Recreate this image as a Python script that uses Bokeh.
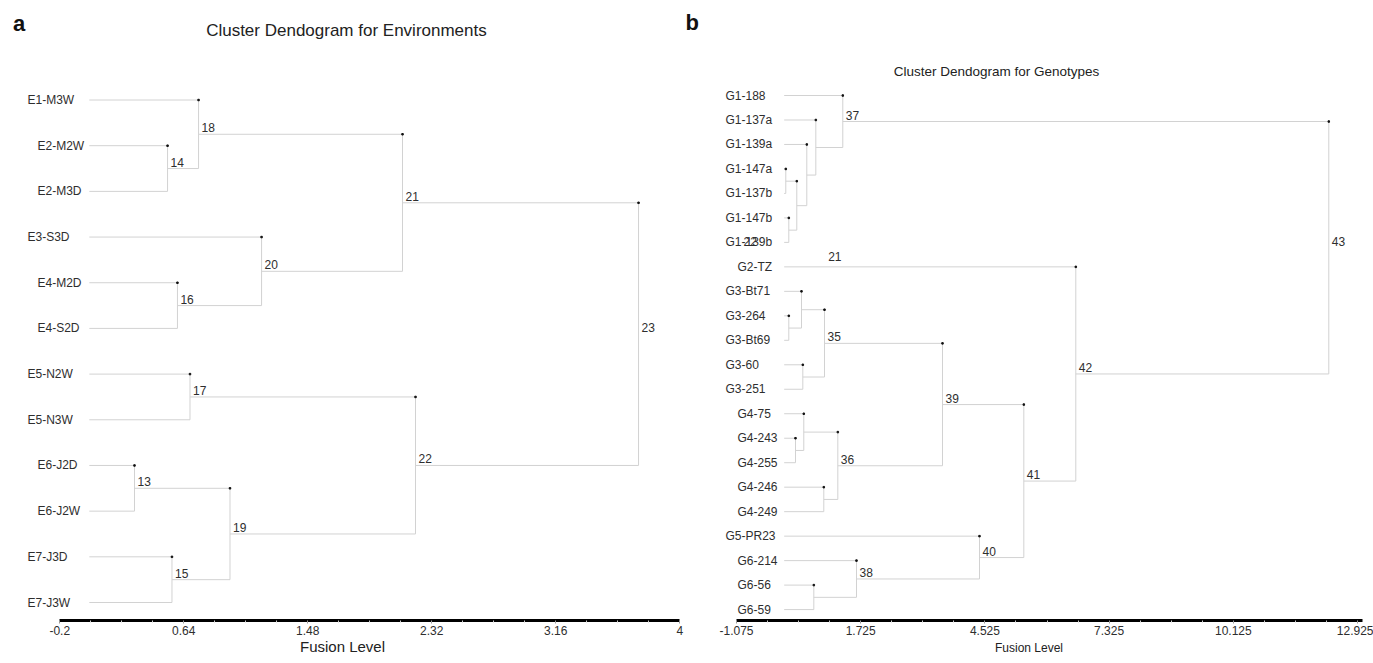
from bokeh.plotting import figure
from bokeh.layouts import row
from bokeh.models import Range1d, FixedTicker, Label, ColumnDataSource
from bokeh.embed import file_html
from bokeh.resources import INLINE
from bokeh.core.properties import value

# ---------------- data: environments ----------------
env_leaves = ["E1-M3W", "E2-M2W", "E2-M3D", "E3-S3D", "E4-M2D", "E4-S2D",
              "E5-N2W", "E5-N3W", "E6-J2D", "E6-J2W", "E7-J3D", "E7-J3W"]
env_merge_ids = [13, 14, 15, 16, 17, 18, 19, 20, 21, 22, 23]
env_merge_left = ["E6-J2D", "E2-M2W", "E7-J3D", "E4-M2D", "E5-N2W", "E1-M3W", 13, "E3-S3D", 18, 17, 21]
env_merge_right = ["E6-J2W", "E2-M3D", "E7-J3W", "E4-S2D", "E5-N3W", 14, 15, 16, 20, 19, 22]
env_merge_height = [0.306, 0.530, 0.560, 0.597, 0.682, 0.740, 0.953, 1.167, 2.122, 2.210, 3.721]
env_merge_label = ["13", "14", "15", "16", "17", "18", "19", "20", "21", "22", "23"]
env_ticks = [-0.2, 0.64, 1.48, 2.32, 3.16, 4.0]
env_tick_labels = ["-0.2", "0.64", "1.48", "2.32", "3.16", "4"]

# ---------------- data: genotypes ----------------
gen_leaves = ["G1-188", "G1-137a", "G1-139a", "G1-147a", "G1-137b", "G1-147b", "G1-139b",
              "G2-TZ", "G3-Bt71", "G3-264", "G3-Bt69", "G3-60", "G3-251", "G4-75",
              "G4-243", "G4-255", "G4-246", "G4-249", "G5-PR23", "G6-214", "G6-56", "G6-59"]
gen_merge_ids = list(range(23, 44))
gen_merge_left = ["G1-147a", "G1-147b", "G3-264", "G4-243", 23, "G3-Bt71", "G3-60", "G4-75",
                  "G1-139a", "G6-56", "G1-137a", "G4-246", 28, 30, "G1-188", "G6-214", 35,
                  "G5-PR23", 39, "G2-TZ", 37]
gen_merge_right = ["G1-137b", "G1-139b", "G3-Bt69", "G4-255", 24, 25, "G3-251", 26,
                   27, "G6-59", 31, "G4-249", 29, 34, 33, 32, 36, 38, 40, 41, 42]
gen_merge_height = [0.036, 0.104, 0.104, 0.255, 0.284, 0.390, 0.420, 0.442, 0.510, 0.668,
                    0.713, 0.893, 0.909, 1.209, 1.321, 1.630, 3.569, 4.403, 5.402, 6.574, 12.277]
gen_merge_label = [""] * 12 + ["35", "36", "37", "38", "39", "40", "41", "42", "43"]
gen_extra_text = ["22", "21"]
gen_extra_x = [-0.917, 0.992]
gen_extra_y = [6.96, 7.58]
gen_ticks = [-1.075, 1.725, 4.525, 7.325, 10.125, 12.925]
gen_tick_labels = ["-1.075", "1.725", "4.525", "7.325", "10.125", "12.925"]

FONT = "Liberation Sans"
LINE = "#d2d2d2"
TXT = "#2e2e2e"


def build_tree(leaves, ids, lefts, rights, heights):
    pos = {name: (0.0, float(i + 1)) for i, name in enumerate(leaves)}
    seg = dict(x0=[], y0=[], x1=[], y1=[])
    lab = dict(x=[], y=[])
    dots = dict(x=[], y=[])
    for mid, l, r, h in zip(ids, lefts, rights, heights):
        lx, ly = pos[l]
        rx, ry = pos[r]
        for cx, cy in ((lx, ly), (rx, ry)):
            seg["x0"].append(cx); seg["y0"].append(cy)
            seg["x1"].append(h); seg["y1"].append(cy)
        seg["x0"].append(h); seg["y0"].append(ly)
        seg["x1"].append(h); seg["y1"].append(ry)
        dots["x"].append(h); dots["y"].append(min(ly, ry))
        ym = (ly + ry) / 2.0
        pos[mid] = (h, ym)
        lab["x"].append(h); lab["y"].append(ym)
    return seg, lab, dots


def make_panel(width, height, xr, yr, border_bottom, leaves, ids, lefts, rights, heights,
               labels, ticks, tick_labels, axis_end, leaf_x, even_shift,
               axis_label_size, axis_label_standoff):
    p = figure(width=width, height=height, x_range=Range1d(*xr), y_range=Range1d(*yr),
               output_backend="svg", toolbar_location=None, y_axis_location=None,
               min_border_left=0, min_border_right=0, min_border_top=0,
               min_border_bottom=border_bottom)
    p.grid.visible = False
    p.outline_line_color = None
    p.background_fill_color = "white"
    p.border_fill_color = "white"

    seg, lab, dots = build_tree(leaves, ids, lefts, rights, heights)
    p.segment(x0="x0", y0="y0", x1="x1", y1="y1", source=ColumnDataSource(seg),
              line_color=LINE, line_width=1)
    p.scatter(x="x", y="y", source=ColumnDataSource(dots), marker="square",
              size=1.5, color="#111111")

    lab["t"] = labels
    p.text(x="x", y="y", text="t", source=ColumnDataSource(lab), x_offset=3, y_offset=-2,
           text_align="left", text_baseline="bottom", text_font=value(FONT),
           text_font_size="12px", text_color=TXT)

    leaf_src = ColumnDataSource(dict(
        x=[leaf_x] * len(leaves),
        y=[i + 1 for i in range(len(leaves))],
        t=leaves,
        dx=[even_shift if int(n[1]) % 2 == 0 else 0 for n in leaves]))
    p.text(x="x", y="y", text="t", source=leaf_src, x_offset="dx",
           text_align="left", text_baseline="middle", text_font=value(FONT),
           text_font_size="12px", text_color=TXT)

    minor = []
    for a, b in zip(ticks[:-1], ticks[1:]):
        minor += [a + (b - a) * k / 4 for k in range(1, 4)]
    ax = p.xaxis[0]
    ax.ticker = FixedTicker(ticks=ticks, minor_ticks=minor)
    ax.major_label_overrides = {t: s for t, s in zip(ticks, tick_labels)}
    ax.bounds = (ticks[0], axis_end)
    ax.axis_line_width = 3
    ax.axis_line_color = "black"
    ax.major_tick_line_color = "#9a9a9a"
    ax.major_tick_in = 0
    ax.major_tick_out = 3
    ax.minor_tick_line_color = "#cccccc"
    ax.minor_tick_in = 0
    ax.minor_tick_out = 2
    ax.major_label_standoff = 2
    ax.major_label_text_font = FONT
    ax.major_label_text_font_size = "12px"
    ax.major_label_text_color = TXT
    ax.axis_label = "Fusion Level"
    ax.axis_label_text_font = FONT
    ax.axis_label_text_font_style = "normal"
    ax.axis_label_text_font_size = axis_label_size
    ax.axis_label_text_color = "#222222"
    ax.axis_label_standoff = axis_label_standoff
    return p


# ---------- left panel (page x 0..684, frame y 0..623) ----------
p1 = make_panel(684, 663, (-0.6018, 4.0324), (12.394, -1.1786), 40,
                env_leaves, env_merge_ids, env_merge_left, env_merge_right, env_merge_height,
                env_merge_label, env_ticks, env_tick_labels, 4.0, -0.419, 10, "15px", 0)
p1.add_layout(Label(x=1.742, y=-0.525, text="Cluster Dendogram for Environments",
                    text_align="center", text_baseline="middle", text_font=FONT,
                    text_font_size="17px", text_color="#222222"))
p1.add_layout(Label(x=-0.476, y=-0.678, text="a", text_align="center", text_baseline="middle",
                    text_font=FONT, text_font_size="22px", text_font_style="bold",
                    text_color="#111111"))

# ---------- right panel (page x 684..1373, frame y 0..620) ----------
p2 = make_panel(689, 663, (-2.2472, 13.285), (22.446, -2.881), 43,
                gen_leaves, gen_merge_ids, gen_merge_left, gen_merge_right, gen_merge_height,
                gen_merge_label, gen_ticks, gen_tick_labels, 13.04, -1.323, 12, "12px", 3)
p2.text(x=gen_extra_x, y=gen_extra_y, text=gen_extra_text, text_align="left",
        text_baseline="middle", text_font=value(FONT), text_font_size="12px", text_color=TXT)
p2.add_layout(Label(x=4.786, y=0.02, text="Cluster Dendogram for Genotypes",
                    text_align="center", text_baseline="middle", text_font=FONT,
                    text_font_size="13.5px", text_color="#222222"))
p2.add_layout(Label(x=-2.2247, y=-1.982, text="b", text_align="left", text_baseline="middle",
                    text_font=FONT, text_font_size="22px", text_font_style="bold",
                    text_color="#111111"))

layout = row(p1, p2, spacing=0)
open("out.html", "w").write(file_html(layout, INLINE))
